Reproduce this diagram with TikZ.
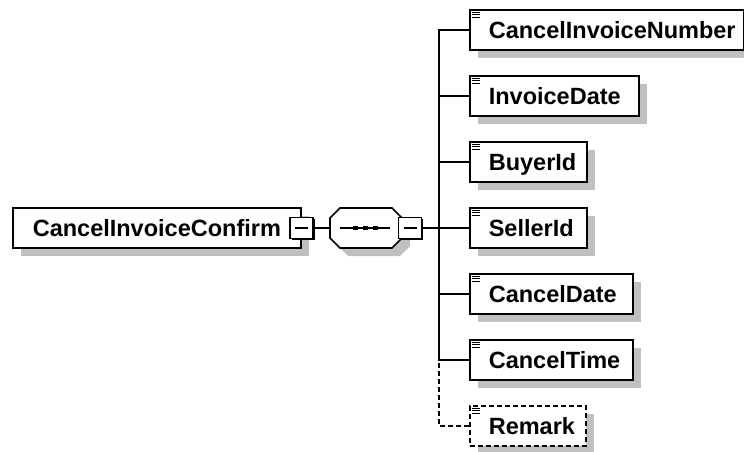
\documentclass[tikz,border=0pt]{standalone}
\usepackage{fontspec}
\setmainfont{Liberation Sans}
\usetikzlibrary{shadows}
\definecolor{shadowgray}{RGB}{192,192,192}
\newcommand\elemtxt[2]{\makebox[#1][l]{\hspace{19pt}#2}}
\begin{document}
\begin{tikzpicture}[x=1pt,y=-1pt,
  conn/.style={line width=1.6pt},
  shad/.style={general shadow={fill=shadowgray, shadow xshift=8pt, shadow yshift=-8pt}},
  elem/.style={draw, line width=1.6pt, fill=white, minimum height=40pt, inner sep=0pt,
    anchor=west, text height=16.8pt, text depth=0pt,
    font=\fontsize{23.5}{28}\selectfont\bfseries, shad},
  optelem/.style={elem, dash pattern=on 5pt off 3pt},
  minus/.style={draw, fill=white, line width=1.4pt, minimum width=23pt, minimum height=21pt,
    inner sep=0pt, general shadow={fill=black, shadow xshift=1.6pt, shadow yshift=-1.6pt},
    path picture={\draw[line width=1.4pt] ([xshift=5pt]path picture bounding box.west) -- ([xshift=-5pt]path picture bounding box.east);}},
  icon/.pic={\draw[line width=1pt] (3,3)--(11,3) (3,5.5)--(11,5.5) (3,8)--(11,8);},
  optconn/.style={conn, dash pattern=on 5pt off 3pt}
]
\useasboundingbox (0,0) rectangle (744,452);

% root element
\node[elem] (root) at (12,228) {\makebox[288pt][l]{\hspace{20pt}CancelInvoiceConfirm}};

% sequence compositor
\path[draw, fill=white, line width=1.6pt, shad]
  (330,218) -- (340,208) -- (392,208) -- (402,218) -- (402,238) -- (392,248) -- (340,248) -- (330,238) -- cycle;
\node[inner sep=0pt, minimum width=72pt, minimum height=40pt] (seq) at (366,228) {};
\draw[line width=1.4pt] (340,228) -- (390,228);
\fill (353,226) rectangle (358,230);
\fill (363,226) rectangle (368,230);
\fill (373,226) rectangle (378,230);

\node[minus] (rm) at (root.east) {};
\node[minus] (sm) at (410,228) {};
\coordinate (trunk) at (439,228);

% children
\node[elem] (cin) at (469,30) {\elemtxt{274pt}{CancelInvoiceNumber}};
\node[elem] (idate) at (469,96) {\elemtxt{169pt}{InvoiceDate}};
\node[elem] (buyer) at (469,162) {\elemtxt{117pt}{BuyerId}};
\node[elem] (seller) at (469,228) {\elemtxt{117pt}{SellerId}};
\node[elem] (cdate) at (469,294) {\elemtxt{163pt}{CancelDate}};
\node[elem] (ctime) at (469,360) {\elemtxt{163pt}{CancelTime}};
\node[optelem] (remark) at (469,426) {\elemtxt{116pt}{Remark}};

\foreach \n in {cin,idate,buyer,seller,cdate,ctime,remark}
  \pic at (\n.north west) {icon};

% connectors
\draw[conn] (rm.east) -- (seq.west);
\draw[conn] (sm.east) -- (trunk);
\draw[conn] (cin.west) -| (trunk);
\draw[conn] (idate.west) -| (trunk);
\draw[conn] (buyer.west) -| (trunk);
\draw[conn] (seller.west) -- (trunk);
\draw[conn] (cdate.west) -| (trunk);
\draw[conn] (ctime.west) -| (trunk);
\draw[optconn] (remark.west) -| (ctime.west -| trunk);
\end{tikzpicture}
\end{document}
